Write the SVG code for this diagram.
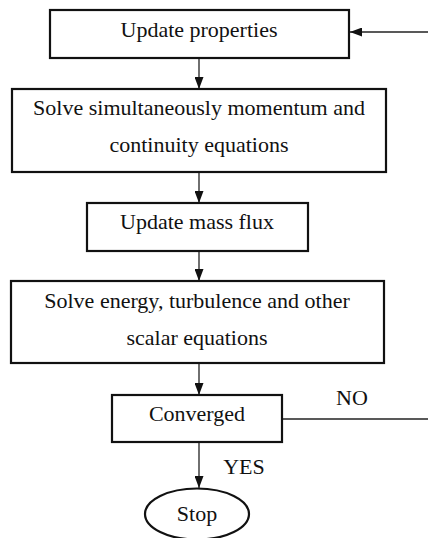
<svg xmlns="http://www.w3.org/2000/svg" width="428" height="538" viewBox="0 0 428 538">
<style>
.box{fill:#fff;stroke:#111;stroke-width:2.2}
.t{font-family:"Liberation Serif","Times New Roman",serif;font-size:22px;fill:#111;text-anchor:middle}
.c{stroke:#222;stroke-width:1.3;fill:none}
</style>
<defs>
<marker id="ah" viewBox="0 0 12 9" refX="12" refY="4.5" markerWidth="12" markerHeight="9" markerUnits="userSpaceOnUse" orient="auto">
<path d="M0,0 L12,4.5 L0,9 z" fill="#111"/>
</marker>
</defs>
<rect width="428" height="538" fill="#fff"/>
<g id="connectors">
<line class="c" x1="428" y1="32" x2="350" y2="32" marker-end="url(#ah)"/>
<line class="c" x1="199" y1="58" x2="199" y2="89" marker-end="url(#ah)"/>
<line class="c" x1="199" y1="172" x2="199" y2="203" marker-end="url(#ah)"/>
<line class="c" x1="199" y1="251" x2="199" y2="281" marker-end="url(#ah)"/>
<line class="c" x1="199" y1="363" x2="199" y2="395" marker-end="url(#ah)"/>
<line class="c" x1="199" y1="442" x2="199" y2="488" marker-end="url(#ah)"/>
<line class="c" x1="282" y1="419" x2="428" y2="419" stroke="#555"/>
<text class="t" x="352" y="405">NO</text>
<text class="t" x="244" y="474">YES</text>
</g>
<g id="n1"><rect class="box" x="50" y="10" width="299" height="48"/><text class="t" x="199" y="37">Update properties</text></g>
<g id="n2"><rect class="box" x="12" y="89" width="374" height="83"/><text class="t" x="199" y="115">Solve simultaneously momentum and</text><text class="t" x="199" y="152">continuity equations</text></g>
<g id="n3"><rect class="box" x="87" y="203" width="221" height="48"/><text class="t" x="197" y="229">Update mass flux</text></g>
<g id="n4"><rect class="box" x="11" y="281" width="373" height="82"/><text class="t" x="197" y="308">Solve energy, turbulence and other</text><text class="t" x="197" y="345">scalar equations</text></g>
<g id="n5"><rect class="box" x="112" y="395" width="170" height="47"/><text class="t" x="197" y="421">Converged</text></g>
<g id="n6"><ellipse cx="197" cy="514" rx="52" ry="25.5" fill="#fff" stroke="#111" stroke-width="2.2"/><text class="t" x="197" y="521">Stop</text></g>
</svg>
